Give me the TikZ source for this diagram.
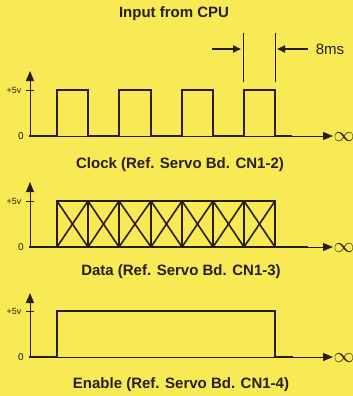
\documentclass[tikz,border=0pt]{standalone}
\usepackage{fontspec}
\setmainfont{Liberation Sans}
\usetikzlibrary{arrows.meta}
\definecolor{bg}{RGB}{248,234,84}
\definecolor{ink}{RGB}{40,30,22}
\begin{document}
\begin{tikzpicture}[x=1pt,y=-1pt,
  axis/.style={draw=ink,line width=1pt},
  sig/.style={draw=ink,line width=2.6pt,line join=miter,line cap=rect},
  xline/.style={draw=ink,line width=1.6pt},
  tip/.style={-{Triangle[length=10pt,width=8pt]}},
  lbl/.style={font=\fontsize{15}{16}\selectfont\bfseries,text=ink,inner sep=0pt},
  small/.style={font=\fontsize{9}{10}\selectfont,text=ink,inner sep=0pt},
  inf/.style={font=\fontsize{20}{21}\selectfont,text=ink,inner sep=0pt}]
\fill[bg] (0,0) rectangle (353,396);
\useasboundingbox (0,0) rectangle (353,396);

% titles
\node[lbl] (title) at (174,14) {Input from CPU};
\node[lbl] (clk) at (180,165) {Clock (Ref. Servo Bd. CN1-2)};
\node[lbl] (dat) at (181,272) {Data (Ref. Servo Bd. CN1-3)};
\node[lbl] (ena) at (181,385) {Enable (Ref. Servo Bd. CN1-4)};

% ===== graph 1 =====
\draw[axis,tip] (30,136) -- (30,71);
\draw[axis] (26,90) -- (34,90);
\draw[axis,tip] (30,136) -- (333,136);
\node[small] (p1) at (14,90) {+5v};
\node[small,font=\fontsize{10}{11}\selectfont] (z1) at (21,136) {0};
\node[inf] (i1) at (344,137) {$\infty$};
\draw[sig] (30,136) -- (57,136) -- (57,90) -- (88,90) -- (88,136) -- (119,136) -- (119,90) -- (151,90) -- (151,136)
  -- (182,136) -- (182,90) -- (213,90) -- (213,136) -- (244,136) -- (244,90) -- (275,90) -- (275,136) -- (291,136);
% 8ms marker
\draw[axis] (243,33) -- (243,82);
\draw[axis] (275,33) -- (275,82);
\draw[draw=ink,line width=1.8pt,-{Triangle[length=8pt,width=7pt]}] (212,49) -- (241,49);
\draw[draw=ink,line width=1.8pt,-{Triangle[length=8pt,width=7pt]}] (308,49) -- (277,49);
\node[font=\fontsize{15}{16}\selectfont,text=ink,inner sep=0pt] (ms) at (330,49) {8ms};

% ===== graph 2 =====
\draw[axis,tip] (30,247) -- (30,182);
\draw[axis] (26,201) -- (34,201);
\draw[axis,tip] (30,247) -- (333,247);
\node[small] (p2) at (14,201) {+5v};
\node[small,font=\fontsize{10}{11}\selectfont] (z2) at (21,247) {0};
\node[inf] (i2) at (344,248) {$\infty$};
\foreach \a/\b in {57/88,88/119,119/151,151/182,182/213,213/244,244/275}{
  \draw[xline] (\a,201) -- (\b,247);
  \draw[xline] (\a,247) -- (\b,201);
  \draw[sig] (\b,201) -- (\b,247);
}
\draw[sig] (30,247) -- (57,247) -- (57,201) -- (275,201) -- (275,247) -- (307,247);
\draw[sig] (57,247) -- (275,247);

% ===== graph 3 =====
\draw[axis,tip] (30,357) -- (30,293);
\draw[axis] (26,311) -- (34,311);
\draw[axis,tip] (30,357) -- (333,357);
\node[small] (p3) at (14,311) {+5v};
\node[small,font=\fontsize{10}{11}\selectfont] (z3) at (21,357) {0};
\node[inf] (i3) at (344,358) {$\infty$};
\draw[sig] (30,357) -- (57,357) -- (57,311) -- (275,311) -- (275,357) -- (292,357);
\end{tikzpicture}
\end{document}
